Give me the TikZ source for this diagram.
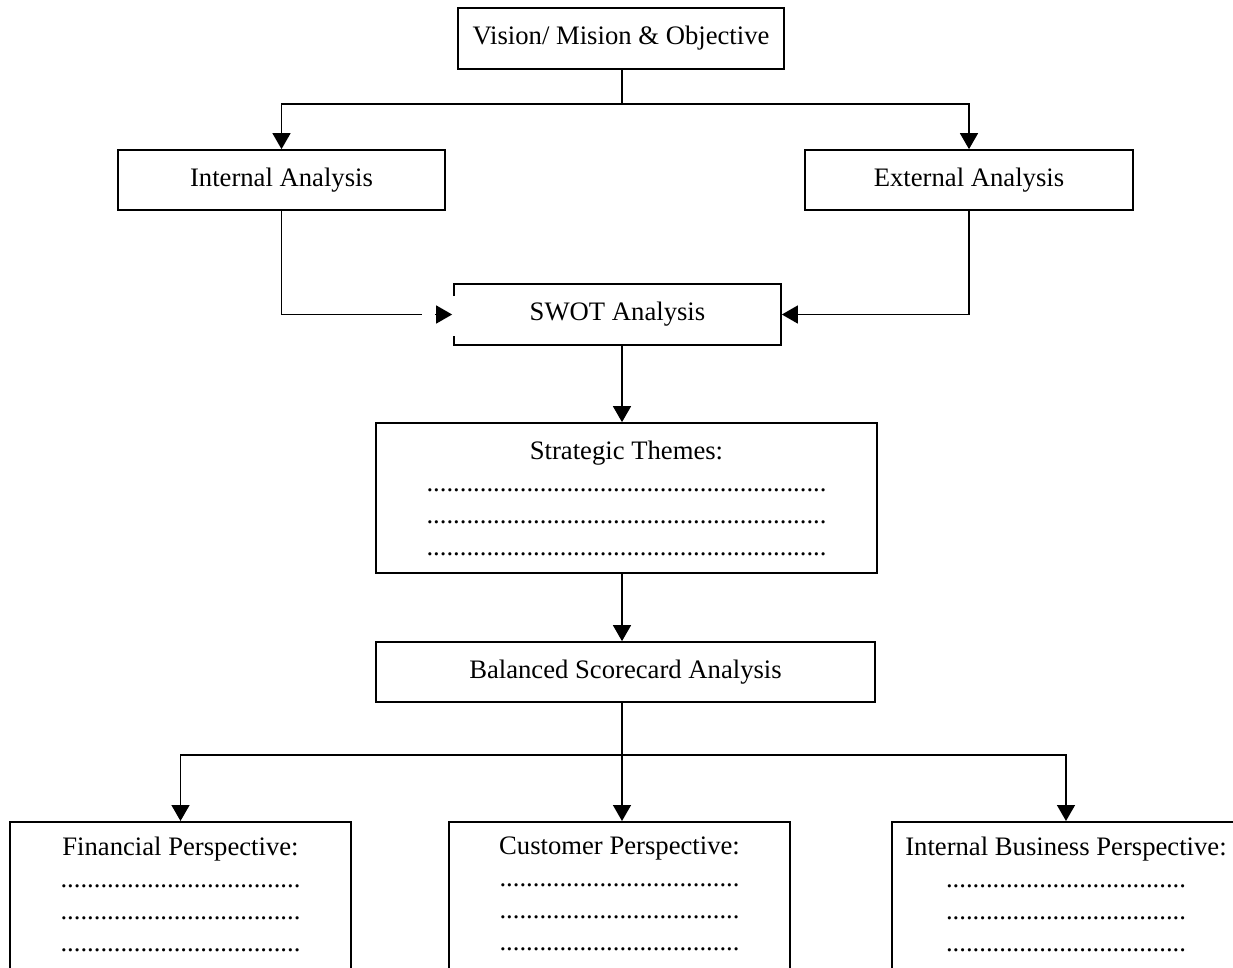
\documentclass[tikz,border=0pt]{standalone}
\usepackage{fontspec}
\setmainfont{Liberation Serif}
\usetikzlibrary{arrows.meta,calc}

\tikzset{
  box/.style={draw, line width=1.3pt, align=center, inner sep=0pt, font=\fontsize{20}{24}\selectfont},
  persp/.style={box, anchor=north, inner ysep=11.5pt, text depth=100pt, execute at begin node={\rule{0pt}{14pt}}},
  conn/.style={line width=1.1pt},
  arr/.style={conn, -{Triangle[length=12pt,width=13.5pt]}},
}

\begin{document}
\begin{tikzpicture}[x=0.75pt,y=0.75pt,yscale=-1,xscale=1]
\clip (0,0) rectangle (1233,968);

%Boxes
\node[box, minimum width=244.5pt, minimum height=45.75pt] (vision) at (621,38.5) {Vision/ Mision \& Objective};
\node[box, minimum width=245.25pt, minimum height=45pt] (intA) at (281.5,180) {Internal Analysis};
\node[box, minimum width=246pt, minimum height=45pt] (extA) at (969,180) {External Analysis};
\node[box, draw=none, minimum width=243.75pt, minimum height=44.25pt] (swot) at (617.5,314.5) {SWOT Analysis};
\node[box, minimum width=375.75pt, minimum height=112.5pt] (strat) at (626.5,498) {Strategic Themes:\\
............................................................\\
............................................................\\
............................................................};
\node[box, minimum width=374.25pt, minimum height=45pt] (bal) at (625.5,672) {Balanced Scorecard Analysis};

%Perspectives
\node[persp, minimum width=255.75pt] (fin) at (180.5,821) {Financial Perspective:\\
....................................\\
....................................\\
....................................};
\node[persp, minimum width=255.75pt] (cust) at (619.5,821) {Customer Perspective:\\
....................................\\
....................................\\
....................................};
\node[persp, minimum width=261pt] (ibp) at (1066,821) {Internal Business Perspective:\\
....................................\\
....................................\\
....................................};

%SWOT outline, left side left open
\draw[line width=1.3pt] ($(swot.north west)+(0,12)$) -- (swot.north west) -- (swot.north east) -- (swot.south east) -- (swot.south west) -- ($(swot.south west)+(0,-9)$);

%Connectors
\coordinate (fork1) at (622,104);
\coordinate (fork2) at (622,755);
\coordinate (gapL) at ($(swot.west)+(-32,0)$);

\draw[conn] (vision.south -| fork1) -- (fork1);
\draw[arr] (fork1) -| (intA.north);
\draw[arr] (fork1) -| (extA.north);

\draw[conn] (intA.south) |- (gapL);
\draw[arr] ($(swot.west)+(-19,0)$) -- ($(swot.west)+(-2,0)$);
\draw[arr] (extA.south) |- ($(swot.east)+(1,0)$);

\draw[arr] (swot.south -| fork2) -- (strat.north -| fork2);
\draw[arr] (strat.south -| fork2) -- (bal.north -| fork2);

\draw[conn] (bal.south -| fork2) -- (fork2);
\draw[arr] (fork2) -| (fin.north);
\draw[arr] (fork2) -- (cust.north -| fork2);
\draw[arr] (fork2) -| (ibp.north);

\end{tikzpicture}
\end{document}
